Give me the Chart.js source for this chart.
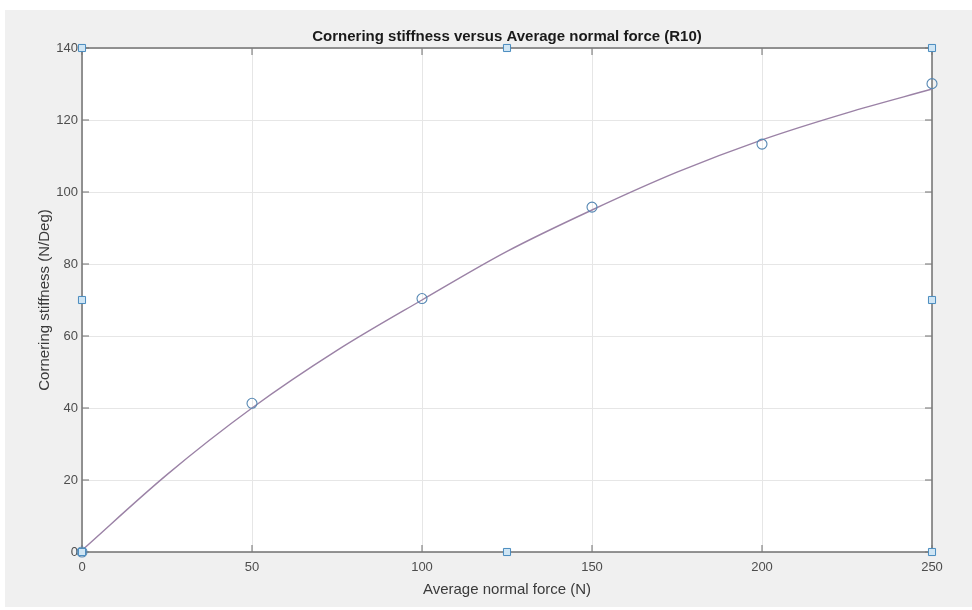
<!DOCTYPE html>
<html>
<head>
<meta charset="utf-8">
<script src="https://cdn.jsdelivr.net/npm/chart.js@4.4.1/dist/chart.umd.min.js"></script>
<style>
  html, body { margin: 0; padding: 0; background: #fff; }
  #wrap { width: 972px; height: 610px; }
</style>
</head>
<body>
<div id="wrap"><canvas id="chart" width="972" height="610"></canvas></div>
<script>
// measured points (circles)
const forceN = [0, 50, 100, 150, 200, 250];
const stiffness = [0, 41.3, 70.4, 95.8, 113.3, 130.1];

// fitted curve
const fitForce = [0, 25, 50, 75, 100, 125, 150, 175, 200, 225, 250];
const fitStiffness = [0.5, 21.5, 40, 56, 70, 83.5, 95, 105.5, 114.5, 122, 128.6];

// selection handles round the axes box
const handleX = [0, 0, 0, 125, 125, 250, 250, 250];
const handleY = [0, 70, 140, 0, 140, 0, 70, 140];

const xTicks = [0, 50, 100, 150, 200, 250];
const yTicks = [0, 20, 40, 60, 80, 100, 120, 140];

const toPoints = (xs, ys) => xs.map((x, i) => ({ x: x, y: ys[i] }));

// grey figure background + white axes area
const backdrop = {
  id: 'backdrop',
  beforeDraw(chart) {
    const { ctx, chartArea } = chart;
    ctx.save();
    ctx.fillStyle = '#f0f0f0';
    ctx.fillRect(5, 10, 967, 597);
    ctx.fillStyle = '#ffffff';
    ctx.fillRect(chartArea.left, chartArea.top, chartArea.right - chartArea.left, chartArea.bottom - chartArea.top);
    ctx.restore();
  },
  beforeDatasetsDraw(chart) {
    // box and inward ticks, MATLAB style
    const { ctx, chartArea, scales } = chart;
    const len = 7;
    ctx.save();
    ctx.strokeStyle = '#6e6e6e';
    ctx.lineWidth = 1;
    ctx.beginPath();
    xTicks.forEach(v => {
      const px = scales.x.getPixelForValue(v);
      ctx.moveTo(px, chartArea.bottom);
      ctx.lineTo(px, chartArea.bottom - len);
      ctx.moveTo(px, chartArea.top);
      ctx.lineTo(px, chartArea.top + len);
    });
    yTicks.forEach(v => {
      const py = scales.y.getPixelForValue(v);
      ctx.moveTo(chartArea.left, py);
      ctx.lineTo(chartArea.left + len, py);
      ctx.moveTo(chartArea.right, py);
      ctx.lineTo(chartArea.right - len, py);
    });
    ctx.stroke();
    ctx.strokeStyle = '#7a7a7a';
    ctx.lineWidth = 1.6;
    ctx.strokeRect(chartArea.left, chartArea.top, chartArea.right - chartArea.left, chartArea.bottom - chartArea.top);
    ctx.restore();
  }
};

new Chart(document.getElementById('chart'), {
  type: 'scatter',
  data: {
    datasets: [
      {
        label: 'handles',
        data: toPoints(handleX, handleY),
        pointStyle: 'rect',
        pointRadius: 5,
        borderColor: '#4a8cbf',
        backgroundColor: '#cfe5f4',
        borderWidth: 1,
        clip: false,
        order: 0,
      },
      {
        label: 'data',
        data: toPoints(forceN, stiffness),
        pointStyle: 'circle',
        pointRadius: 5,
        borderColor: '#5587b3',
        backgroundColor: 'rgba(0,0,0,0)',
        borderWidth: 1.1,
        clip: false,
        order: 1,
      },
      {
        label: 'fit',
        data: toPoints(fitForce, fitStiffness),
        showLine: true,
        pointRadius: 0,
        borderColor: '#9b82a6',
        borderWidth: 1.4,
        cubicInterpolationMode: 'monotone',
        clip: false,
        order: 2,
      },
    ],
  },
  options: {
    responsive: false,
    animation: false,
    layout: {
      padding: { left: 0, right: 40, top: 0, bottom: 0 },
    },
    plugins: {
      legend: { display: false },
      tooltip: { enabled: false },
      title: {
        display: true,
        fullSize: false,
        text: 'Cornering stiffness versus Average normal force (R10)',
        color: '#1a1a1a',
        font: { family: "'Liberation Sans', Arial, sans-serif", size: 15, weight: 'bold' },
        padding: { top: 28, bottom: 2 },
      },
    },
    scales: {
      x: {
        type: 'linear',
        min: 0,
        max: 250,
        afterBuildTicks: (scale) => { scale.ticks = xTicks.map(v => ({ value: v })); },
        afterFit: (scale) => { scale.height = 58; },
        grid: { color: '#e6e6e6', drawTicks: false },
        border: { display: false },
        ticks: {
          color: '#4d4d4d',
          padding: 8,
          font: { family: "'Liberation Sans', Arial, sans-serif", size: 13 },
        },
        title: {
          display: true,
          text: 'Average normal force (N)',
          color: '#3a3a3a',
          font: { family: "'Liberation Sans', Arial, sans-serif", size: 15 },
          padding: { top: 0, bottom: 11 },
        },
      },
      y: {
        type: 'linear',
        min: 0,
        max: 140,
        afterBuildTicks: (scale) => { scale.ticks = yTicks.map(v => ({ value: v })); },
        afterFit: (scale) => { scale.width = 82; },
        grid: { color: '#e6e6e6', drawTicks: false },
        border: { display: false },
        ticks: {
          color: '#4d4d4d',
          padding: 4,
          font: { family: "'Liberation Sans', Arial, sans-serif", size: 13 },
        },
        title: {
          display: true,
          text: 'Cornering stiffness (N/Deg)',
          color: '#3a3a3a',
          font: { family: "'Liberation Sans', Arial, sans-serif", size: 15 },
          padding: { top: 36, bottom: 0 },
        },
      },
    },
  },
  plugins: [backdrop],
});
</script>
</body>
</html>
